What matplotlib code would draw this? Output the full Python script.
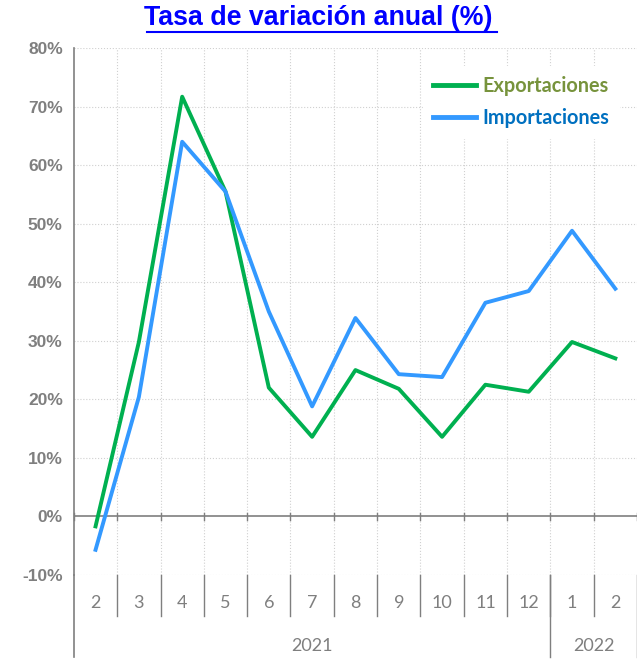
import matplotlib
matplotlib.use('Agg')
import matplotlib.pyplot as plt
import matplotlib.transforms as mtransforms

# datos
meses = ['2', '3', '4', '5', '6', '7', '8', '9', '10', '11', '12', '1', '2']
anios = ['2021', '2022']
meses_por_anio = [11, 2]
exportaciones = [-1.7, 29.8, 71.7, 55.5, 22.0, 13.6, 25.0, 21.8, 13.6, 22.5, 21.3, 29.8, 27.0]
importaciones = [-5.7, 20.4, 64.0, 55.5, 35.0, 18.8, 33.9, 24.3, 23.8, 36.5, 38.5, 48.8, 38.9]
yticks = [-10, 0, 10, 20, 30, 40, 50, 60, 70, 80]

gris = '#7f7f7f'
fig = plt.figure(figsize=(6.37, 6.59), dpi=100)
ax = fig.add_axes([0.116, 0.1275, 0.884, 0.7995])

x = list(range(len(meses)))
ax.plot(x, exportaciones, color='#00B050', lw=2.8, label='Exportaciones', zorder=3)
ax.plot(x, importaciones, color='#3399FF', lw=2.8, label='Importaciones', zorder=3)

ax.set_xlim(-0.5, len(meses) - 0.5)
ax.set_ylim(-10, 80)

# rejilla punteada
for v in yticks:
    if v != 0:
        ax.axhline(v, color='#d0d0d0', lw=0.8, ls=':', zorder=1)
for i in range(len(meses) - 1):
    ax.axvline(i + 0.5, color='#d0d0d0', lw=0.8, ls=':', zorder=1)
ax.axhline(0, color=gris, lw=1.2, zorder=2)

ax.set_yticks(yticks)
ax.set_yticklabels([f'{v}%' for v in yticks], fontsize=12.5, fontweight='bold',
                   color=gris, family='Liberation Sans')
ax.tick_params(axis='y', length=0, pad=8)
ax.set_xticks([])
for s in ['top', 'right', 'bottom']:
    ax.spines[s].set_visible(False)
ax.spines['left'].set_color(gris)
ax.spines['left'].set_linewidth(1.2)
ax.spines['left'].set_bounds(-10, 80)

# eje de categorias en dos niveles
trans = mtransforms.blended_transform_factory(ax.transData, ax.transAxes)
for i in range(len(meses) + 1):
    b = i - 0.5
    ax.plot([b, b], [0.1111 - 0.006, 0.1111 + 0.006], color=gris, lw=1, transform=trans, clip_on=False)
for i in range(1, len(meses)):
    ax.plot([i - 0.5, i - 0.5], [0, -0.078], color=gris, lw=1, transform=trans, clip_on=False)
for i, m in enumerate(meses):
    ax.text(i, -0.053, m, transform=trans, ha='center', va='center', fontsize=13,
            color=gris, family='Lato')
ax.plot([-0.5, -0.5], [0, -0.156], color=gris, lw=1.2, transform=trans, clip_on=False)
inicio = 0
for a, n in zip(anios, meses_por_anio):
    fin = inicio + n
    ax.plot([fin - 0.5, fin - 0.5], [0, -0.156], color=gris, lw=1, transform=trans, clip_on=False)
    ax.text((inicio + fin - 1) / 2, -0.135, a, transform=trans, ha='center', va='center',
            fontsize=13, color=gris, family='Lato')
    inicio = fin

leg = ax.legend(loc='center right', bbox_to_anchor=(0.968, 0.897), frameon=True, framealpha=1,
                edgecolor='white', handlelength=2.2, handletextpad=0.3, labelspacing=0.6,
                prop={'family': 'Lato', 'weight': 'bold', 'size': 14.3}, borderpad=0.5,
                borderaxespad=0)
leg.get_texts()[0].set_color('#77933C')
leg.get_texts()[1].set_color('#0070C0')
for h in leg.get_lines():
    h.set_linewidth(3.5)

fig.text(0.5, 0.973, 'Tasa de variación anual (%)', ha='center', va='center',
         fontsize=19.3, fontweight='bold', color='#0000FF', family='Liberation Sans')
fig.add_artist(plt.Line2D([0.231, 0.780], [0.952, 0.952], color='#0000FF', lw=1.5,
                          transform=fig.transFigure))

fig.savefig('out.png', dpi=100)
